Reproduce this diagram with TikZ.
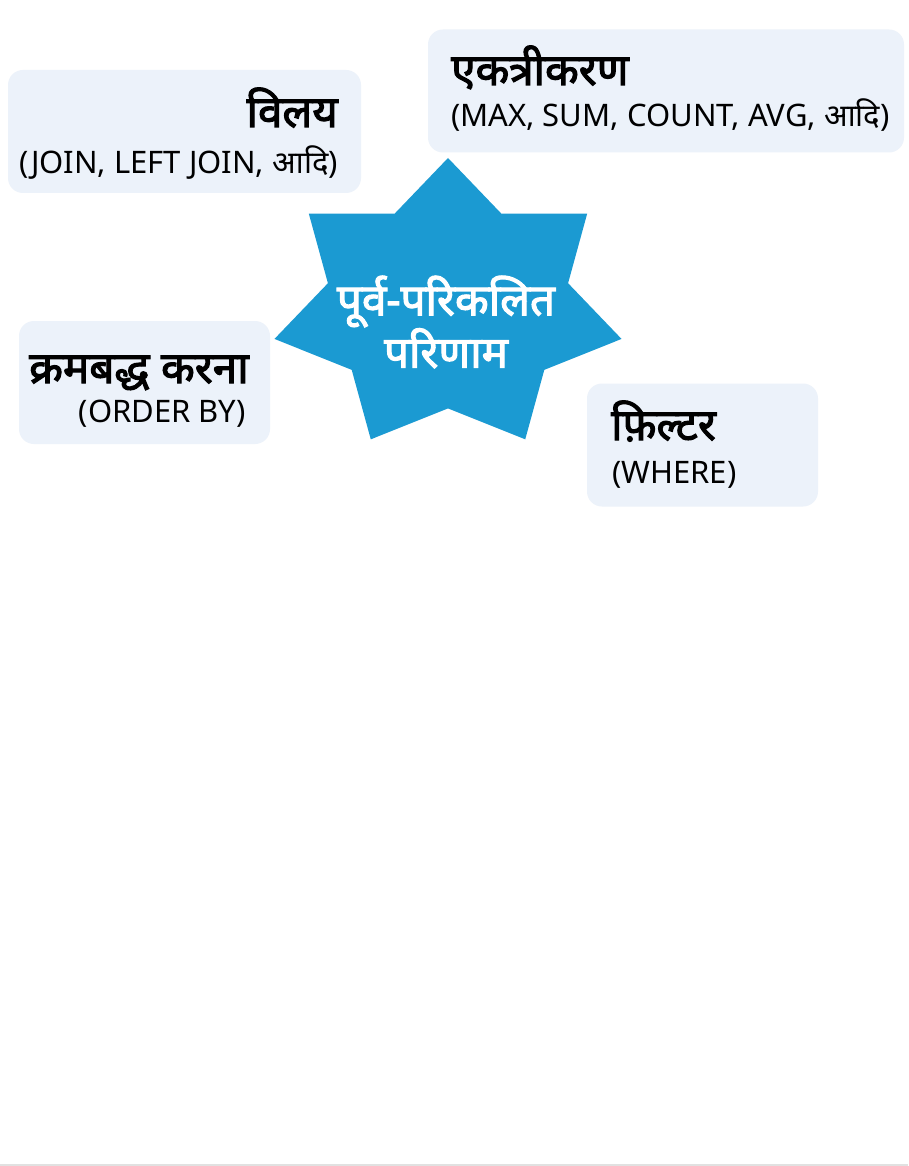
\documentclass[tikz,border=0pt]{standalone}
\usepackage{fontspec}
\setmainfont{Noto Sans}[Script=Devanagari]
\newfontfamily\headfont{Noto Sans}[Script=Devanagari, FakeBold=2.5]
\usepackage{tikz}
\definecolor{starblue}{RGB}{27,154,210}
\definecolor{boxfill}{RGB}{236,242,250}
\definecolor{edgegray}{RGB}{225,225,225}

\begin{document}
\begin{tikzpicture}[x=1pt, y=-1pt,
  infobox/.style={rectangle, rounded corners=15pt, fill=boxfill, minimum height=123pt, inner sep=0pt},
  headtext/.style={inner sep=0pt, font=\fontsize{44}{50}\headfont},
  notetext/.style={inner sep=0pt, font=\fontsize{31}{36}\selectfont},
  startext/.style={inner sep=0pt, align=center, text=white, font=\fontsize{44}{50}\headfont}
]
\useasboundingbox (0,0) rectangle (908,1166);
\fill[white] (0,0) rectangle (908,1166);
\draw[edgegray, line width=2pt] (0,1165) -- (908,1165);

% Central star
\begin{scope}[shift={(448,306)}, x=178pt, y=148pt]
\fill[starblue] (90:1) \foreach \k in {1,...,7} { -- (90+\k*360/7-180/7:0.692) -- (90+\k*360/7:1) } -- cycle;
\end{scope}
\node[startext] (star) at (446,322) {पूर्व-परिकलित\\परिणाम};

% Joins
\node[infobox, minimum width=353pt] (join) at (184.5,131.5) {};
\node[headtext, anchor=base east] (joinhead) at (338,127) {विलय};
\node[notetext, anchor=base east] (joinnote) at (338,174) {(JOIN, LEFT JOIN, आदि)};

% Aggregation
\node[infobox, minimum width=476pt] (agg) at (666,91) {};
\node[headtext, anchor=base west] (agghead) at (451,85) {एकत्रीकरण};
\node[notetext, anchor=base west] (aggnote) at (451,127) {(MAX, SUM, COUNT, AVG, आदि)};

% Sorting
\node[infobox, minimum width=251pt] (sort) at (144.5,382.5) {};
\node[headtext, anchor=base west] (sorthead) at (29,383) {क्रमबद्ध करना};
\node[notetext, anchor=base east] (sortnote) at (246,422) {(ORDER BY)};

% Filter
\node[infobox, minimum width=231pt] (filt) at (702.5,445) {};
\node[headtext, anchor=base west] (filthead) at (611,440) {फ़िल्टर};
\node[notetext, anchor=base west] (filtnote) at (612,483) {(WHERE)};
\end{tikzpicture}
\end{document}
